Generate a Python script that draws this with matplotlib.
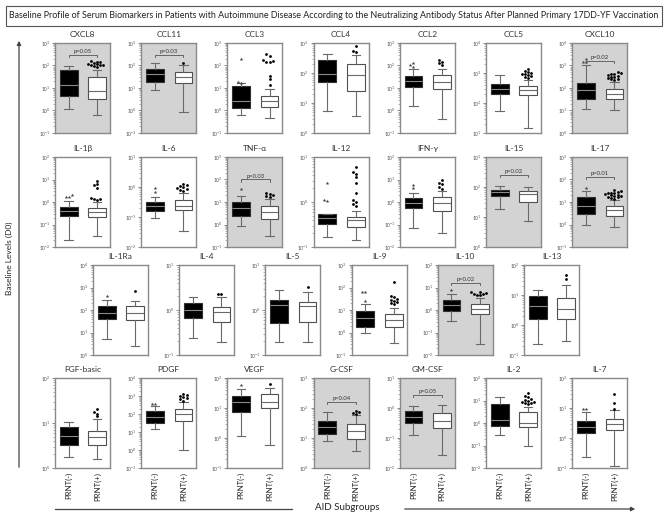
import numpy as np
import matplotlib
matplotlib.use("Agg")
import matplotlib.pyplot as plt
from matplotlib.patches import Rectangle, FancyArrowPatch
from matplotlib.lines import Line2D
from matplotlib.ticker import LogLocator, LogFormatterSciNotation, NullFormatter

plt.rcParams["font.family"] = ["Lato", "DejaVu Sans"]

# panels, in reading order (7 / 7 / 6 / 7)
names = ["CXCL8", "CCL11", "CCL3", "CCL4", "CCL2", "CCL5", "CXCL10",
         "IL-1β", "IL-6", "TNF-α", "IL-12", "IFN-γ", "IL-15", "IL-17",
         "IL-1Ra", "IL-4", "IL-5", "IL-9", "IL-10", "IL-13",
         "FGF-basic", "PDGF", "VEGF", "G-CSF", "GM-CSF", "IL-2", "IL-7"]

# y range of each panel as powers of ten (low, high)
decades = [(-1, 3), (-1, 3), (-1, 3), (0, 3), (-1, 3), (1, 4), (0, 4),
           (-2, 2), (-2, 1), (-1, 3), (-1, 1), (-2, 2), (0, 3), (-1, 3),
           (0, 4), (-1, 1), (-1, 1), (-1, 3), (-2, 2), (-1, 2),
           (0, 2), (-1, 4), (-1, 2), (0, 3), (-2, 1), (-2, 2), (-1, 2)]

# box stats: whisker low, Q1, median, Q3, whisker high
neg_stats = [[1.2, 4.6, 14, 60, 95], [8, 19, 40, 70, 130], [0.65, 1.35, 2.6, 12, 16],
             [5.5, 50, 90, 265, 430], [1.6, 11, 20, 35, 70], [55, 200, 290, 440, 870],
             [12, 32, 80, 175, 1000],
             [0.021, 0.24, 0.4, 0.62, 1.1], [0.09, 0.16, 0.23, 0.31, 0.46],
             [0.87, 2.4, 5.3, 10, 19], [0.17, 0.33, 0.43, 0.53, 0.55],
             [0.069, 0.56, 0.93, 1.45, 2.4], [18, 49, 68, 81, 110], [0.98, 3, 6.5, 16, 32],
             [5, 38, 71, 155, 280], [0.24, 0.65, 1.0, 1.4, 1.9], [0.19, 0.51, 1.27, 1.7, 2.85],
             [1.0, 1.8, 4.2, 9, 19], [0.32, 0.86, 1.7, 2.9, 5.3], [0.24, 1.6, 4.3, 9, 15],
             [1.75, 3.2, 5.2, 8, 10.5], [15, 33, 71, 148, 285], [1.2, 7.5, 16, 25, 42],
             [7.7, 14, 24, 37, 73], [0.13, 0.31, 0.52, 0.77, 1.2], [0.3, 0.76, 1.4, 6.9, 14.6],
             [0.23, 1.47, 2.35, 3.8, 7.5]]

pos_stats = [[0.65, 3.1, 7, 30, 65], [0.9, 17, 30, 52, 100], [0.47, 1.4, 2.6, 4.6, 9],
             [3.8, 25, 88, 205, 410], [0.43, 9, 18, 36, 70], [15, 190, 280, 360, 600],
             [10, 33, 52, 95, 180],
             [0.03, 0.21, 0.35, 0.56, 1.0], [0.034, 0.17, 0.23, 0.38, 0.63],
             [0.3, 1.8, 3.7, 6.9, 14], [0.14, 0.28, 0.39, 0.46, 0.63],
             [0.041, 0.4, 0.87, 1.6, 3.2], [7.4, 32, 60, 74, 100], [0.78, 2.5, 4.4, 6.5, 12],
             [2.6, 37, 71, 145, 260], [0.19, 0.55, 0.89, 1.15, 1.9], [0.19, 0.53, 1.2, 1.5, 2.5],
             [0.33, 1.8, 3.5, 6.9, 12.6], [0.031, 0.68, 1.1, 1.9, 3.3], [0.3, 1.6, 3.4, 8, 22],
             [1.6, 3.2, 4.8, 6.8, 12.5], [1.05, 41, 96, 180, 460], [0.6, 10, 16, 29, 45],
             [3.7, 9.3, 16.5, 29, 60], [0.028, 0.21, 0.37, 0.68, 1.3], [0.1, 0.66, 1.0, 3.0, 5.3],
             [0.12, 1.8, 3.0, 4.4, 8.3]]

neg_fliers = [[], [], [17, 19, 185], [], [90, 110, 130], [], [1400, 1400, 1900],
              [1.6, 2.0, 1.6], [0.7, 0.9], [36], [1.05, 1.1, 2.6], [4.3, 5.6], [], [40],
              [400], [], [], [25, 65, 65], [7.5], [],
              [], [380, 380], [58], [], [], [], [9.6, 9.6]]

pos_fliers = [[85, 95, 100, 105, 110, 115, 120, 130, 140, 150, 160], [130],
              [14, 24, 35, 140, 150, 160, 180, 255, 330], [500, 550, 820], [110, 130, 150, 170],
              [700, 750, 800, 850, 900, 950, 1000, 1100, 1200, 1350],
              [220, 240, 260, 280, 300, 320, 350, 380, 400, 420, 450, 500],
              [1.2, 1.3, 1.4, 1.5, 4.3, 5.5, 6.5, 9], [0.75, 0.8, 0.85, 0.9, 1.0, 1.1, 1.2, 1.3],
              [16, 18, 20, 22, 24], [0.8, 0.9, 1.0, 1.1, 1.55, 2.6, 3.6, 4.2, 4.6, 6.0],
              [3.8, 4.5, 6, 7, 10], [],
              [14, 15, 16, 17, 18, 19, 20, 21, 22, 24, 25, 26, 28, 30, 34],
              [700], [2.3, 2.3], [3.3], [18, 20, 22, 25, 28, 32, 36, 40, 170],
              [4.5, 4.8, 5, 5.2, 5.5, 6, 6.2], [35, 45],
              [14, 16, 18, 20], [550, 650, 750, 850, 1000, 1100, 1300], [62], [65, 70, 75, 80],
              [], [7, 7.5, 8, 8.5, 9, 10, 11, 12, 14, 16, 22], [9, 15, 30]]

pvals = {"CXCL8": "p=0.05", "CCL11": "p=0.03", "CXCL10": "p=0.02", "TNF-α": "p=0.03",
         "IL-15": "p=0.02", "IL-17": "p=0.01", "IL-10": "p=0.02", "G-CSF": "p=0.04",
         "GM-CSF": "p=0.05"}
bracket_y = {"CXCL8": 0.87, "CCL11": 0.87, "CXCL10": 0.80, "TNF-α": 0.75, "IL-15": 0.80,
             "IL-17": 0.78, "IL-10": 0.80, "G-CSF": 0.735, "GM-CSF": 0.81}

groups = ["PRNT(-)", "PRNT(+)"]

W, H = 669, 515
fig = plt.figure(figsize=(W / 100, H / 100), dpi=100)


def px_axes(left, top, w, h):
    return fig.add_axes([left / W, 1 - (top + h) / H, w / W, h / H])


def spread(vals, lo, hi, pos):
    # side-by-side placement of outliers that would overlap
    placed = []
    xs, ys = [], []
    offs = [0, -0.11, 0.11, -0.22, 0.22, -0.33, 0.33, -0.44, 0.44]
    for v in sorted(vals):
        fy = (np.log10(v) - lo) / (hi - lo)
        for o in offs:
            if all(abs(o - po) > 0.09 or abs(fy - py) > 0.028 for po, py in placed):
                break
        placed.append((o, fy))
        xs.append(pos + o)
        ys.append(v)
    return xs, ys


rows = [range(0, 7), range(7, 14), range(14, 20), range(20, 27)]
row_tops = [43, 157, 265, 378]
row_left = [55, 55, 93, 55]
step = 86.2

for r, idxs in enumerate(rows):
    for j, i in enumerate(idxs):
        ax = px_axes(row_left[r] + j * step, row_tops[r], 55, 90)
        name = names[i]
        lo, hi = decades[i]
        shaded = name in pvals
        ax.set_facecolor("#d3d3d3" if shaded else "white")

        stats = []
        for s in (neg_stats[i], pos_stats[i]):
            stats.append(dict(whislo=s[0], q1=s[1], med=s[2], q3=s[3], whishi=s[4], fliers=[]))
        art = ax.bxp(stats, positions=[1, 2], widths=0.62, capwidths=0.3, patch_artist=True,
                     showfliers=False,
                     whiskerprops=dict(color="#6a6a6a", lw=0.8),
                     capprops=dict(color="#6a6a6a", lw=0.8))
        art["boxes"][0].set(facecolor="black", edgecolor="#303030", lw=0.8)
        art["boxes"][1].set(facecolor="white", edgecolor="#505050", lw=0.8)
        art["medians"][0].set(color="#8a8a8a", lw=0.8)
        art["medians"][1].set(color="#6a6a6a", lw=0.8)

        xs, ys = spread(neg_fliers[i], lo, hi, 1)
        ax.plot(xs, ys, ls="none", marker="*", ms=2.8, color="#404040", mew=0)
        xs, ys = spread(pos_fliers[i], lo, hi, 2)
        ax.plot(xs, ys, ls="none", marker="o", ms=2.0, color="black", mew=0)

        ax.set_yscale("log")
        ax.set_ylim(10.0 ** lo, 10.0 ** hi)
        ax.set_xlim(0.52, 2.45)
        ax.yaxis.set_major_locator(LogLocator(base=10, numticks=10))
        ax.yaxis.set_major_formatter(LogFormatterSciNotation())
        ax.yaxis.set_minor_locator(LogLocator(base=10, subs=np.arange(2, 10), numticks=10))
        ax.yaxis.set_minor_formatter(NullFormatter())
        ax.tick_params(axis="y", which="major", labelsize=3.6, labelcolor="#555555",
                       color="#777777", length=2.2, width=0.6, pad=1)
        ax.tick_params(axis="y", which="minor", color="#777777", length=1.2, width=0.4)
        ax.tick_params(axis="x", length=0)
        for sp in ax.spines.values():
            sp.set_color("#8a8a8a")
            sp.set_linewidth(1.0)

        ax.set_xticks([1, 2])
        if r == 3:
            ax.set_xticklabels(groups, rotation=90, fontsize=5.6, color="#222222")
            ax.tick_params(axis="x", pad=3)
        else:
            ax.set_xticklabels([])

        ax.set_title(name, fontsize=6.0, pad=4, color="#333333")

        if shaded:
            by = bracket_y[name]
            tr = ax.get_xaxis_transform()
            ax.plot([1, 1, 2, 2], [by - 0.025, by, by, by - 0.025], transform=tr,
                    color="#555555", lw=0.6)
            ax.text(1.5, by + 0.01, pvals[name], transform=tr, ha="center", va="bottom",
                    fontsize=4.2, color="#333333")

# title box
fig.patches.append(Rectangle((6 / W, 1 - 26 / H), 656 / W, 20 / H, transform=fig.transFigure,
                             facecolor="white", edgecolor="#555555", lw=0.8))
fig.text(334 / W, 1 - 16 / H,
         "Baseline Profile of Serum Biomarkers in Patients with Autoimmune Disease According to "
         "the Neutralizing Antibody Status After Planned Primary 17DD-YF Vaccination",
         ha="center", va="center", fontsize=6.4, color="#222222")

# side arrow
fig.add_artist(FancyArrowPatch(
    (19 / W, 1 - 470 / H), (19 / W, 1 - 38 / H), transform=fig.transFigure,
    arrowstyle="-|>", mutation_scale=6, color="#444444", lw=0.9))
fig.text(9 / W, 1 - 258 / H, "Baseline Levels (D0)", rotation=90, ha="center", va="center",
         fontsize=6.0, color="#222222")

# bottom arrow, broken around its label
fig.add_artist(Line2D([55 / W, 292 / W], [1 - 509 / H, 1 - 509 / H], transform=fig.transFigure,
                      color="#444444", lw=0.9))
fig.add_artist(FancyArrowPatch(
    (402 / W, 1 - 509 / H), (638 / W, 1 - 509 / H), transform=fig.transFigure,
    arrowstyle="-|>", mutation_scale=6, color="#444444", lw=0.9))
fig.text(347 / W, 1 - 508 / H, "AID Subgroups", ha="center", va="center", fontsize=7.0,
         color="#222222")

fig.savefig("out.png", dpi=100)
